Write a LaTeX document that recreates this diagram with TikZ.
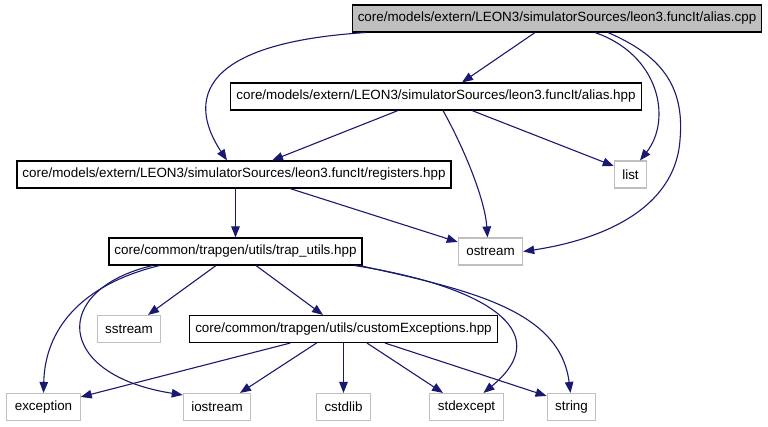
\documentclass[tikz,border=0pt]{standalone}
\usepackage{fontspec}
\setmainfont{Liberation Sans}
\usetikzlibrary{arrows.meta}
\definecolor{edgeblue}{HTML}{191970}
\definecolor{sysgray}{HTML}{BFBFBF}

\begin{document}
\begin{tikzpicture}[x=1pt, y=-1pt, every node/.style={font=\fontsize{13.4pt}{15pt}\selectfont, inner xsep=5.5pt, minimum height=27pt},
	doc/.style={draw=black, line width=1.1pt}, sys/.style={draw=sysgray, line width=1.1pt, inner xsep=8pt},
	dep/.style={edgeblue, line width=1.1pt, -{Triangle[length=11pt, width=8.5pt]}}]
	\useasboundingbox (0,0) rectangle (768,427);
	\node[doc, fill=sysgray] (cpp) at (557,18.5) {core/models/extern/LEON3/simulatorSources/leon3.funcIt/alias.cpp};
	\node[doc] (hpp) at (436,96.5) {core/models/extern/LEON3/simulatorSources/leon3.funcIt/alias.hpp};
	\node[doc] (reg) at (234,174.5) {core/models/extern/LEON3/simulatorSources/leon3.funcIt/registers.hpp};
	\node[doc] (trap) at (235.5,251.5) {core/common/trapgen/utils/trap\_utils.hpp};
	\node[doc] (cexc) at (343.5,329) {core/common/trapgen/utils/customExceptions.hpp};
	\foreach \n/\x/\y in {list/630.5/174.5, ostream/490.5/251.5, sstream/129/329, exception/43.5/407, iostream/217/407, cstdlib/343.5/407, stdexcept/466.5/407, string/571.5/407}
		{\node[sys] (\n) at (\x,\y) {\n};}
	% alias.cpp
	\draw[dep] ([xshift=-22pt]cpp.south) -- ([xshift=26pt]hpp.north);
	\draw[dep] ([xshift=14pt]cpp.south west) .. controls (170,45) and (200,120) .. ([xshift=-7pt]reg.north);
	\draw[dep] ([xshift=38pt]cpp.south) .. controls (660,55) and (672,120) .. ([xshift=9.5pt]list.north);
	\draw[dep] ([xshift=51pt]cpp.south) .. controls (660,55) and (685,85) .. (680,140) .. controls (675,210) and (600,240) .. (ostream.east);
	% alias.hpp
	\draw[dep] ([xshift=-38pt]hpp.south) -- ([xshift=38pt]reg.north);
	\draw[dep] ([xshift=7pt]hpp.south) .. controls (465,150) and (485,200) .. ([xshift=-3pt]ostream.north);
	\draw[dep] ([xshift=36pt]hpp.south) -- ([yshift=8.5pt]list.west);
	% registers.hpp
	\draw[dep] (trap.north |- reg.south) -- (trap.north);
	\draw[dep] ([xshift=56pt]reg.south) -- ([yshift=9.5pt]ostream.west);
	% trap_utils.hpp
	\draw[dep] ([xshift=-19.5pt]trap.south) -- ([xshift=19pt]sstream.north);
	\draw[dep] ([xshift=20.5pt]trap.south) -- ([xshift=-20.5pt]cexc.north);
	\draw[dep] ([xshift=51pt]trap.south west) .. controls (80,285) and (45,330) .. (exception.north);
	\draw[dep] ([xshift=44pt]trap.south west) .. controls (50,290) and (55,375) .. ([yshift=-2pt]iostream.north west);
	\draw[dep] ([xshift=-8pt]trap.south east) .. controls (480,285) and (560,330) .. ([xshift=17pt]stdexcept.north);
	\draw[dep] ([xshift=-3pt]trap.south east) .. controls (470,290) and (560,310) .. ([xshift=-1pt]string.north);
	% customExceptions.hpp
	\draw[dep] ([xshift=101pt]cexc.south west) -- ([yshift=-4pt]exception.north east);
	\draw[dep] ([xshift=-27pt]cexc.south) -- ([xshift=23pt]iostream.north);
	\draw[dep] (cexc.south) -- (cstdlib.north);
	\draw[dep] ([xshift=23.5pt]cexc.south) -- ([xshift=-23.5pt]stdexcept.north);
	\draw[dep] ([xshift=41.5pt]cexc.south) -- ([yshift=-3pt]string.north west);
\end{tikzpicture}
\end{document}
